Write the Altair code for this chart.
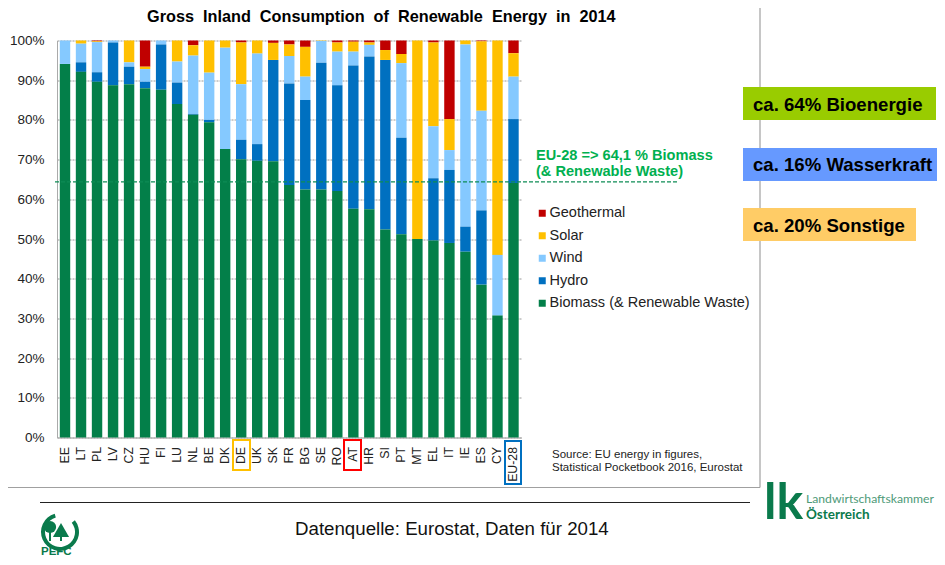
import altair as alt
import pandas as pd

countries = ["EE","LT","PL","LV","CZ","HU","FI","LU","NL","BE","DK","DE","UK","SK","FR","BG","SE","RO","AT","HR","SI","PT","MT","EL","IT","IE","ES","CY","EU-28"]
biomass = [94.1,92.1,89.6,88.7,89.0,88.0,87.6,84.0,81.3,79.4,72.7,70.1,69.7,69.6,63.6,62.5,62.5,62.1,57.6,57.5,52.4,51.2,50.0,49.6,49.0,46.8,38.5,30.7,64.1]
hydro = [0,2.4,2.4,10.8,4.4,1.6,11.4,5.4,0.2,0.6,0,4.9,4.2,25.5,25.6,22.5,31.9,26.6,36.1,38.5,42.7,24.3,0,15.7,18.4,6.3,18.7,0,16.1]
wind = [5.9,4.7,7.6,0.5,1.1,3.2,1.0,5.3,14.7,11.9,25.5,14.0,22.8,0,6.9,5.9,5.5,8.5,3.5,2.9,0,18.8,0,13.1,5.0,45.9,25.1,15.3,10.7]
solar = [0,0.8,0.2,0,5.5,0.6,0,5.3,2.6,8.1,1.8,10.5,3.3,4.3,2.9,7.5,0.1,2.3,2.5,0.6,2.5,2.3,50.0,21.1,7.8,1.0,17.5,54.0,5.9]
geothermal = [0,0,0.2,0,0,6.6,0,0,1.2,0,0,0.5,0,0.6,1.0,1.6,0,0.5,0.3,0.5,2.4,3.4,0,0.5,19.8,0,0.2,0,3.2]

series_names = ["Geothermal","Solar","Wind","Hydro","Biomass (& Renewable Waste)"]
series_colors = ["#C00000","#FFC000","#85C9FF","#0070C0","#037F49"]
series_values = [geothermal, solar, wind, hydro, biomass]
stack_rank = [5,4,3,2,1]
y_ticks = list(range(0, 101, 10))

rows = []
for name, rank, vals in zip(series_names, stack_rank, series_values):
    for c, v in zip(countries, vals):
        rows.append({"country": c, "series": name, "rank": rank, "share": v})
df = pd.DataFrame(rows)

FONT = "Liberation Sans"
LOGO = "Lato"
OX, OY = 57, 40.5
one = alt.Data(values=[{"a": 1}])

def ax(x):
    return x - OX

def ay(y):
    return y - OY

def label(s, x, y, size=13, bold=False, color="#000000", align="left", font=FONT):
    return alt.Chart(one).mark_text(text=s, fontSize=size, fontWeight="bold" if bold else "normal",
                                    color=color, align=align, baseline="alphabetic", font=font
                                    ).encode(x=alt.value(ax(x)), y=alt.value(ay(y)))

def box(x0, y0, x1, y1, fill=None, stroke=None, sw=2):
    kw = {"fill": fill} if fill else {"fillOpacity": 0}
    if stroke:
        kw.update(stroke=stroke, strokeWidth=sw)
    return alt.Chart(one).mark_rect(**kw).encode(x=alt.value(ax(x0)), x2=alt.value(ax(x1)),
                                                 y=alt.value(ay(y0)), y2=alt.value(ay(y1)))

def hline(x0, x1, y, color, sw=1):
    return alt.Chart(one).mark_rule(color=color, strokeWidth=sw).encode(
        x=alt.value(ax(x0)), x2=alt.value(ax(x1)), y=alt.value(ay(y)))

def vline(x, y0, y1, color, sw=1):
    return alt.Chart(one).mark_rule(color=color, strokeWidth=sw).encode(
        x=alt.value(ax(x)), y=alt.value(ay(y0)), y2=alt.value(ay(y1)))

y_axis = alt.Axis(values=y_ticks, labelExpr="datum.value + '%'", labelFont=FONT,
                  labelFontSize=13.5, labelColor="#222222", ticks=False, labelPadding=13,
                  labelOverlap=False, domainColor="#AAAAAA", gridColor="#999999",
                  gridDash=[2, 1], grid=True, title=None)
y_scale = alt.Scale(domain=[0, 100], nice=False)

bars = alt.Chart(alt.Data(values=df.to_dict("records"))).mark_bar(stroke=None).encode(
    x=alt.X("country:N", sort=countries, title=None,
            scale=alt.Scale(paddingInner=0.35, paddingOuter=0.175),
            axis=alt.Axis(labelAngle=270, labelFont=FONT, labelFontSize=12.3, labelColor="#222222",
                          ticks=False, labelPadding=9, domainColor="#AAAAAA", grid=False, labelOverlap=False)),
    y=alt.Y("share:Q", stack="zero", title=None, scale=y_scale, axis=y_axis),
    color=alt.Color("series:N", scale=alt.Scale(domain=series_names, range=series_colors),
                    legend=alt.Legend(orient="none", legendX=ax(535), legendY=ay(206), title=None,
                                      symbolType="square", symbolSize=49, symbolStrokeWidth=0,
                                      labelFont=FONT, labelFontSize=14.5, labelColor="#222222",
                                      rowPadding=7.5, labelOffset=0, padding=0, labelLimit=300)),
    order=alt.Order("rank:Q"),
)

eu_line = alt.Chart(one).mark_rule(color="#0E8C55", strokeWidth=1.3, strokeDash=[4, 2]).encode(
    y=alt.Y(datum=64.4, title=None, scale=y_scale, axis=y_axis), x=alt.value(ax(55)), x2=alt.value(ax(678)))

layers = [
    bars,
    eu_line,
    # frame and rules
    hline(8, 760, 487.5, "#A0A0A0", 1.2),
    vline(760, 8, 487.5, "#A0A0A0", 1.2),
    hline(40, 750, 502.5, "#222222", 1.2),
    # title and notes
    label("Gross\u00a0\u00a0Inland\u00a0\u00a0Consumption\u00a0\u00a0of\u00a0\u00a0Renewable\u00a0\u00a0Energy\u00a0\u00a0in\u00a0\u00a02014", 147, 22, size=16.25, bold=True),
    label("EU-28 => 64,1 % Biomass", 536, 160, size=14.6, bold=True, color="#00B050"),
    label("(& Renewable Waste)", 536, 176, size=14.6, bold=True, color="#00B050"),
    label("Source: EU energy in figures,", 552, 458, size=11.5, color="#222222"),
    label("Statistical Pocketbook 2016, Eurostat", 552, 471, size=11.5, color="#222222"),
    label("Datenquelle: Eurostat, Daten für 2014", 295, 535, size=18.7, color="#111111"),
    # highlighted labels
    box(233, 440, 250, 470, stroke="#FFC000"),
    box(344, 440, 361, 470, stroke="#FF0000"),
    box(505, 441, 521, 484, stroke="#0070C0"),
    # call-outs
    box(743, 87, 936, 120, fill="#99CC00"),
    box(743, 148, 944, 181, fill="#6699FF"),
    box(743, 208, 916, 241, fill="#FFCC66"),
    label("ca. 64% Bioenergie", 753, 111, size=18.6, bold=True),
    label("ca. 16% Wasserkraft", 753, 171, size=18.6, bold=True),
    label("ca. 20% Sonstige", 753, 232, size=18.6, bold=True),
    # Landwirtschaftskammer logo
    label("lk", 764, 519, size=50, bold=True, color="#0A7A4C", font=LOGO),
    label("Landwirtschaftskammer", 806, 502.5, size=12.2, color="#4E9A78", font=LOGO),
    label("Österreich", 806, 518.5, size=13.5, bold=True, color="#0A7A4C", font=LOGO),
    # PEFC logo
    alt.Chart(one).mark_arc(innerRadius=15, outerRadius=19, theta=0.9, theta2=6.0, color="#0A7A4C").encode(
        x=alt.value(ax(60)), y=alt.value(ay(532))),
    alt.Chart(one).mark_point(shape="circle", size=150, filled=True, color="#0A7A4C", opacity=1).encode(
        x=alt.value(ax(50)), y=alt.value(ay(527))),
    alt.Chart(one).mark_point(shape="triangle-up", size=260, filled=True, color="#0A7A4C", opacity=1).encode(
        x=alt.value(ax(61)), y=alt.value(ay(530))),
    vline(50, 530, 541, "#0A7A4C", 2),
    vline(61, 530, 541, "#0A7A4C", 2),
    label("PEFC", 41, 554.5, size=11.5, bold=True, color="#0A7A4C"),
]

chart = alt.layer(*layers).properties(
    width=464.5, height=397,
    padding={"left": 49, "top": 32.5, "right": 415.5, "bottom": 119.5},
    autosize=alt.AutoSizeParams(type="none"),
    background="#FFFFFF",
).configure_view(stroke=None)

chart.save("out.html", embed_options={"renderer": "svg", "actions": False})
